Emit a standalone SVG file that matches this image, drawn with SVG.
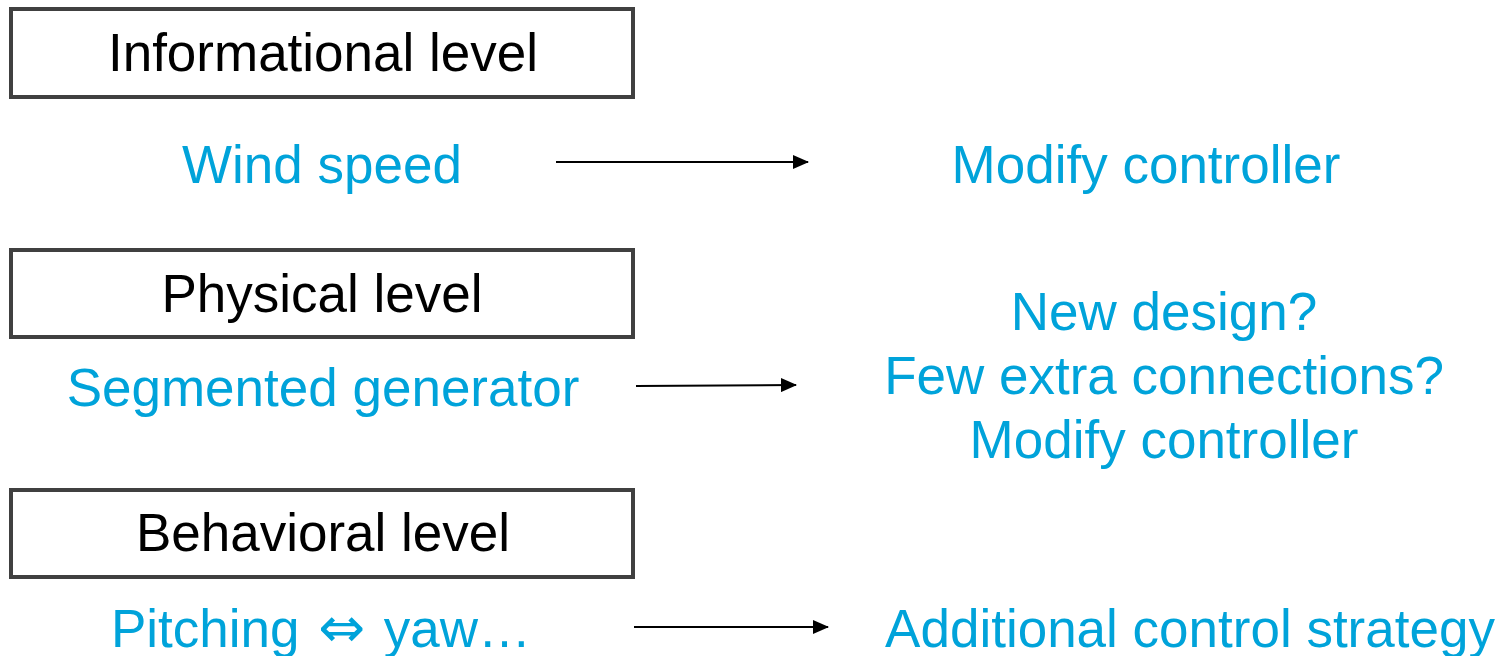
<svg xmlns="http://www.w3.org/2000/svg" width="1504" height="656" viewBox="0 0 1504 656">
  <style>
    .box { fill: #ffffff; stroke: #404040; stroke-width: 4; }
    .head { font-family: "Liberation Sans", Arial, sans-serif; font-size: 53px; fill: #000000; text-anchor: middle; }
    .item { font-family: "Liberation Sans", Arial, "DejaVu Sans", sans-serif; font-size: 53px; fill: #00A3DA; text-anchor: middle; }
    .conn { stroke: #000000; stroke-width: 2; fill: none; marker-end: url(#arrow); }
  </style>
  <defs>
    <marker id="arrow" viewBox="0 0 16 14" refX="15" refY="7" markerWidth="16" markerHeight="14" markerUnits="userSpaceOnUse" orient="auto">
      <path d="M0,0 L16,7 L0,14 Z" fill="#000000"/>
    </marker>
  </defs>
  <rect width="1504" height="656" fill="#ffffff"/>

  <g id="informational-level">
    <rect class="box" x="11" y="9" width="622" height="88"/>
    <text class="head" x="323" y="71">Informational level</text>
  </g>
  <g id="wind-speed">
    <text class="item" x="322" y="183">Wind speed</text>
  </g>
  <g id="modify-controller-1">
    <text class="item" x="1146" y="183">Modify controller</text>
  </g>

  <g id="physical-level">
    <rect class="box" x="11" y="250" width="622" height="87"/>
    <text class="head" x="322" y="312">Physical level</text>
  </g>
  <g id="segmented-generator">
    <text class="item" x="323" y="406">Segmented generator</text>
  </g>
  <g id="design-options">
    <text class="item" x="1164" y="330">New design?</text>
    <text class="item" x="1164" y="394">Few extra connections?</text>
    <text class="item" x="1164" y="458">Modify controller</text>
  </g>

  <g id="behavioral-level">
    <rect class="box" x="11" y="490" width="622" height="87"/>
    <text class="head" x="323" y="551">Behavioral level</text>
  </g>
  <g id="pitching-yaw">
    <text class="item" x="321" y="647" word-spacing="4">Pitching <tspan font-family="DejaVu Sans" font-size="56">⇔</tspan> yaw…</text>
  </g>
  <g id="additional-control">
    <text class="item" x="1190" y="647">Additional control strategy</text>
  </g>

  <g id="connectors">
    <line class="conn" x1="556" y1="162" x2="808" y2="162"/>
    <line class="conn" x1="636" y1="386" x2="796" y2="385"/>
    <line class="conn" x1="634" y1="627" x2="828" y2="627"/>
  </g>
</svg>
